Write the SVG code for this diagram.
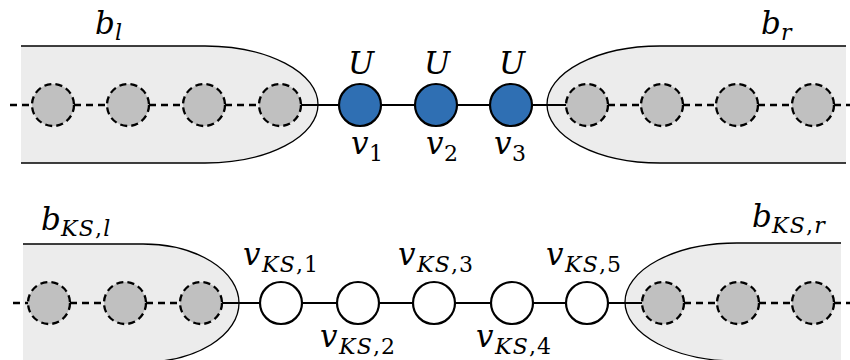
<svg xmlns="http://www.w3.org/2000/svg" width="850" height="360" viewBox="0 0 850 360">
<style>
.region{fill:#ececec;stroke:#000;stroke-width:1.3}
.gray{fill:#c0c0c0;stroke:#000;stroke-width:2.3;stroke-dasharray:7 4.2}
.blue{fill:#2f6fb3;stroke:#000;stroke-width:2.2}
.white{fill:#fff;stroke:#000;stroke-width:2.2}
.solid{stroke:#000;stroke-width:2.2;fill:none}
.dash{stroke:#000;stroke-width:2.3;fill:none;stroke-dasharray:7 5}
.m{font-family:"DejaVu Serif",serif;font-size:31px;font-style:italic}
.s{font-family:"DejaVu Serif",serif;font-size:22px;font-style:italic;letter-spacing:1.2px}
.up{font-style:normal}
</style>
<rect width="850" height="360" fill="#fff"/>
<g id="regions">
<g id="b_l"><path class="region" d="M21 46 H205 A113 58.5 0 0 1 205 163 H21"/><text class="m" x="95" y="34">b</text><text class="s" x="115" y="40">l</text></g>
<g id="b_r"><path class="region" d="M846 46 H660 A113 58.5 0 0 0 660 163 H846"/><text class="m" x="761" y="34">b</text><text class="s" x="781" y="40">r</text></g>
<g id="b_KS_l"><path class="region" d="M23 244 H143 A96 59 0 0 1 143 362 H23"/><text class="m" x="41" y="230">b</text><text class="s" x="61" y="236">KS<tspan class="up">,</tspan>l</text></g>
<g id="b_KS_r"><path class="region" d="M841 243 H737 A112 59 0 0 0 737 361 H841"/><text class="m" x="752" y="227">b</text><text class="s" x="772" y="233">KS<tspan class="up">,</tspan>r</text></g>
</g>
<g id="connectors">
<line class="dash" x1="10" y1="105" x2="32" y2="105"/>
<line class="dash" x1="74" y1="105" x2="107" y2="105"/>
<line class="dash" x1="149" y1="105" x2="183" y2="105"/>
<line class="dash" x1="225" y1="105" x2="259" y2="105"/>
<line class="solid" x1="301" y1="105" x2="339" y2="105"/>
<line class="solid" x1="381" y1="105" x2="415" y2="105"/>
<line class="solid" x1="457" y1="105" x2="490" y2="105"/>
<line class="solid" x1="532" y1="105" x2="566" y2="105"/>
<line class="dash" x1="608" y1="105" x2="641" y2="105"/>
<line class="dash" x1="683" y1="105" x2="716" y2="105"/>
<line class="dash" x1="758" y1="105" x2="792" y2="105"/>
<line class="dash" x1="834" y1="105" x2="850" y2="105"/>
<line class="dash" x1="13" y1="303" x2="28" y2="303"/>
<line class="dash" x1="70" y1="303" x2="104" y2="303"/>
<line class="dash" x1="146" y1="303" x2="180" y2="303"/>
<line class="solid" x1="222" y1="303" x2="260" y2="303"/>
<line class="solid" x1="302" y1="303" x2="337" y2="303"/>
<line class="solid" x1="379" y1="303" x2="413" y2="303"/>
<line class="solid" x1="455" y1="303" x2="491" y2="303"/>
<line class="solid" x1="533" y1="303" x2="566" y2="303"/>
<line class="solid" x1="608" y1="303" x2="642" y2="303"/>
<line class="dash" x1="684" y1="303" x2="717" y2="303"/>
<line class="dash" x1="759" y1="303" x2="792" y2="303"/>
<line class="dash" x1="834" y1="303" x2="850" y2="303"/>
</g>
<g id="top-nodes">
<g id="gl1"><circle class="gray" cx="53" cy="105" r="21"/></g>
<g id="gl2"><circle class="gray" cx="128" cy="105" r="21"/></g>
<g id="gl3"><circle class="gray" cx="204" cy="105" r="21"/></g>
<g id="gl4"><circle class="gray" cx="280" cy="105" r="21"/></g>
<g id="v1"><circle class="blue" cx="360" cy="105" r="21"/><text class="m" x="361" y="74" text-anchor="middle">U</text><text class="m" x="351" y="154">v</text><text class="s up" x="369" y="161">1</text></g>
<g id="v2"><circle class="blue" cx="436" cy="105" r="21"/><text class="m" x="437" y="74" text-anchor="middle">U</text><text class="m" x="426" y="154">v</text><text class="s up" x="444" y="161">2</text></g>
<g id="v3"><circle class="blue" cx="511" cy="105" r="21"/><text class="m" x="512" y="74" text-anchor="middle">U</text><text class="m" x="494" y="154">v</text><text class="s up" x="512" y="161">3</text></g>
<g id="gr1"><circle class="gray" cx="587" cy="105" r="21"/></g>
<g id="gr2"><circle class="gray" cx="662" cy="105" r="21"/></g>
<g id="gr3"><circle class="gray" cx="737" cy="105" r="21"/></g>
<g id="gr4"><circle class="gray" cx="813" cy="105" r="21"/></g>
</g>
<g id="bottom-nodes">
<g id="kgl1"><circle class="gray" cx="49" cy="303" r="21"/></g>
<g id="kgl2"><circle class="gray" cx="125" cy="303" r="21"/></g>
<g id="kgl3"><circle class="gray" cx="201" cy="303" r="21"/></g>
<g id="vks1"><circle class="white" cx="281" cy="303" r="21"/><text class="m" x="243" y="265">v</text><text class="s" x="262" y="272">KS<tspan class="up">,1</tspan></text></g>
<g id="vks2"><circle class="white" cx="358" cy="303" r="21"/><text class="m" x="320" y="347">v</text><text class="s" x="339" y="354">KS<tspan class="up">,2</tspan></text></g>
<g id="vks3"><circle class="white" cx="434" cy="303" r="21"/><text class="m" x="398" y="265">v</text><text class="s" x="417" y="272">KS<tspan class="up">,3</tspan></text></g>
<g id="vks4"><circle class="white" cx="512" cy="303" r="21"/><text class="m" x="476" y="347">v</text><text class="s" x="495" y="354">KS<tspan class="up">,4</tspan></text></g>
<g id="vks5"><circle class="white" cx="587" cy="303" r="21"/><text class="m" x="546" y="265">v</text><text class="s" x="565" y="272">KS<tspan class="up">,5</tspan></text></g>
<g id="kgr1"><circle class="gray" cx="663" cy="303" r="21"/></g>
<g id="kgr2"><circle class="gray" cx="738" cy="303" r="21"/></g>
<g id="kgr3"><circle class="gray" cx="813" cy="303" r="21"/></g>
</g>
</svg>
